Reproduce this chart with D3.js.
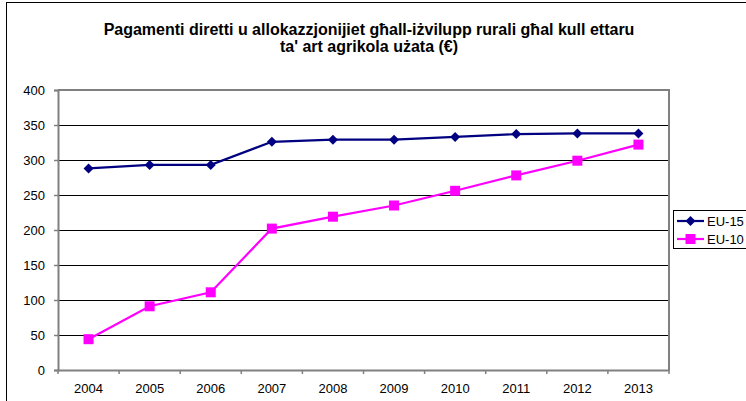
<!DOCTYPE html>
<html><head><meta charset="utf-8">
<script src="https://cdn.jsdelivr.net/npm/d3@7"></script>
<style>body{margin:0;background:#fff;overflow:hidden}svg{display:block;font-family:Arial,"Liberation Sans",sans-serif}</style>
</head><body><svg id="c" width="746" height="401"></svg>
<script>
const years = ["2004","2005","2006","2007","2008","2009","2010","2011","2012","2013"];
const eu15 = [288, 293, 293, 326, 329, 329, 333, 337, 338, 338];
const eu10 = [44, 91, 111, 202, 219, 235, 256, 278, 299, 322];
const yTicks = [0, 50, 100, 150, 200, 250, 300, 350, 400];
const seriesNames = ["EU-15", "EU-10"];
const titleLines = ["Pagamenti diretti u allokazzjonijiet għall-iżvilupp rurali għal kull ettaru", "ta' art agrikola użata (€)"];

const FONT = "Arial, 'Liberation Sans', sans-serif";
const svg = d3.select("#c");
// outer chart border
svg.append("rect").attr("x",6.5).attr("y",2.5).attr("width",760).attr("height",420)
  .attr("fill","#fff").attr("stroke","#000").attr("stroke-width",1);

const L=58, R=669, T=90, B=370;
const x = d3.scaleBand().domain(years).range([L,R]);
const y = d3.scaleLinear().domain([0,400]).range([B,T]);

// title
svg.append("g").selectAll("text").data(titleLines).join("text")
  .attr("x",369).attr("y",(d,i)=>35+i*17).attr("text-anchor","middle")
  .attr("font-size","16px").attr("font-weight","bold").text(d=>d);

// gridlines
svg.append("g").selectAll("line").data(yTicks.filter(t=>t>0&&t<400)).join("line")
  .attr("x1",L).attr("x2",R).attr("y1",d=>Math.round(y(d))+0.5).attr("y2",d=>Math.round(y(d))+0.5)
  .attr("stroke","#000").attr("stroke-width",1);

// plot area border (top/right)
svg.append("path").attr("d",`M${L},${T}H${R}V${B}`).attr("fill","none").attr("stroke","#808080").attr("stroke-width",2);

// y axis
const ya = svg.append("g").attr("transform",`translate(${L},0)`)
  .call(d3.axisLeft(y).tickValues(yTicks).tickSize(4).tickPadding(9));
ya.select(".domain").attr("stroke","#808080").attr("stroke-width",2);
ya.selectAll(".tick line").attr("stroke","#808080").attr("stroke-width",1.5);
ya.selectAll("text").attr("font-size","13px").attr("font-family",FONT).attr("fill","#000");

// x axis
const xa = svg.append("g").attr("transform",`translate(0,${B})`)
  .call(d3.axisBottom(x).tickSize(0).tickPadding(14));
xa.select(".domain").attr("stroke","#808080").attr("stroke-width",2);
xa.selectAll("text").attr("font-size","13px").attr("font-family",FONT).attr("fill","#000");
xa.selectAll(".bt").data(d3.range(years.length+1)).join("line").attr("class","bt")
  .attr("x1",i=>L+i*x.step()).attr("x2",i=>L+i*x.step()).attr("y1",0).attr("y2",4)
  .attr("stroke","#808080").attr("stroke-width",1.5);

const cx = d=>x(d)+x.bandwidth()/2;
const line = d3.line().x((d,i)=>cx(years[i])).y(d=>y(d));

function drawSeries(vals, color, marker){
  svg.append("path").datum(vals).attr("d",line).attr("fill","none").attr("stroke",color).attr("stroke-width",2.2);
  const g = svg.append("g");
  vals.forEach((v,i)=>{
    marker(g, cx(years[i]), y(v), color);
  });
}
const diamond = (g,px,py,c)=>g.append("path").attr("d",`M${px},${py-5}L${px+5},${py}L${px},${py+5}L${px-5},${py}Z`).attr("fill",c);
const square = (g,px,py,c)=>g.append("rect").attr("x",px-5).attr("y",py-5).attr("width",10).attr("height",10).attr("fill",c);

drawSeries(eu15,"#000080",diamond);
drawSeries(eu10,"#FF00FF",square);

// legend
const lg = svg.append("g");
lg.append("rect").attr("x",673.5).attr("y",210.5).attr("width",90).attr("height",38).attr("fill","#fff").attr("stroke","#000");
const colors=["#000080","#FF00FF"], markers=[diamond,square];
seriesNames.forEach((n,i)=>{
  const ly = 221 + i*18;
  lg.append("line").attr("x1",677).attr("x2",704).attr("y1",ly).attr("y2",ly).attr("stroke",colors[i]).attr("stroke-width",2.2);
  markers[i](lg,690.5,ly,colors[i]);
  lg.append("text").attr("x",707).attr("y",ly+5).attr("font-size","13px").text(n);
});
</script></body></html>
